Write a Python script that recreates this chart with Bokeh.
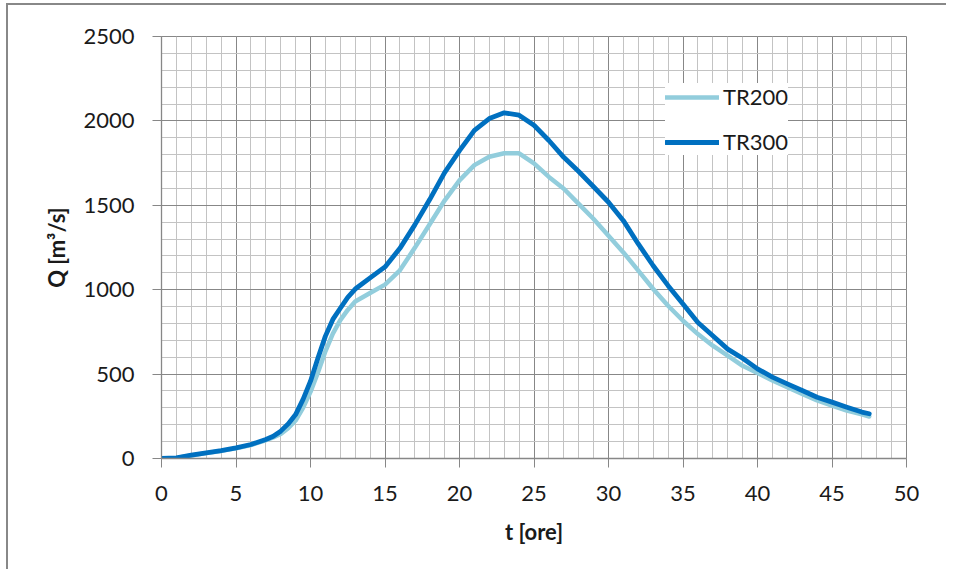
from bokeh.plotting import figure
from bokeh.embed import file_html
from bokeh.resources import INLINE
from bokeh.models import SingleIntervalTicker, Range1d, Legend, LegendItem

# ---- data ----
t_ore = [0, 1, 2, 3, 4, 5, 6, 7, 7.5, 8, 8.5, 9, 9.5, 10, 10.5, 11, 11.5, 12, 12.5,
         13, 14, 15, 16, 17, 18, 19, 20, 21, 22, 23, 24, 25, 26, 27, 28, 29, 30,
         31, 32, 33, 34, 35, 36, 37, 38, 39, 40, 41, 42, 43, 44, 45, 46, 47, 47.5]
tr300 = [0, 4, 20, 34, 47, 63, 83, 113, 132, 162, 205, 260, 350, 458, 596, 725, 824, 890, 955,
         1004, 1070, 1135, 1245, 1384, 1534, 1694, 1824, 1944, 2014, 2048, 2034, 1974, 1884, 1784,
         1700, 1610, 1518, 1409, 1271, 1142, 1024, 915, 806, 727, 648, 594, 531, 482, 442, 403,
         363, 334, 304, 275, 265]
tr200 = [0, 3, 18, 32, 45, 60, 80, 108, 125, 145, 180, 225, 300, 395, 510, 635, 740, 820, 880,
         930, 980, 1030, 1115, 1248, 1388, 1528, 1648, 1738, 1788, 1808, 1808, 1748, 1668, 1598,
         1508, 1419, 1320, 1221, 1113, 1004, 905, 816, 737, 668, 609, 549, 506, 462, 423, 383,
         344, 314, 284, 261, 249]
series_names = ["TR200", "TR300"]
x_label = "t [ore]"
y_label = "Q [m³/s]"

FONT = "Lato"
MAJOR = "#878787"
MINOR = "#c3c3c3"

p = figure(width=940, height=566, output_backend="svg", toolbar_location=None,
           x_range=Range1d(0, 50), y_range=Range1d(0, 2500),
           min_border_left=153, min_border_right=42, min_border_top=31, min_border_bottom=113)
p.styles = {"border-left": "2px solid #888888", "border-top": "2px solid #888888",
            "margin-left": "6px", "margin-top": "3px"}
p.background_fill_color = "white"
p.border_fill_color = "white"
p.outline_line_color = MAJOR
p.outline_line_width = 1

p.xaxis.ticker = SingleIntervalTicker(interval=5, num_minor_ticks=5)
p.yaxis.ticker = SingleIntervalTicker(interval=500, num_minor_ticks=5)

for g in (p.xgrid, p.ygrid):
    g.grid_line_color = MAJOR
    g.grid_line_width = 1
    g.minor_grid_line_color = MINOR
    g.minor_grid_line_width = 1

for ax in (p.xaxis, p.yaxis):
    ax.axis_line_color = MAJOR
    ax.axis_line_width = 1.3
    ax.major_tick_line_color = MAJOR
    ax.major_tick_out = 9
    ax.major_tick_in = 0
    ax.minor_tick_line_color = None
    ax.major_label_text_font = FONT
    ax.major_label_text_font_size = "22px"
    ax.major_label_text_color = "#1a1a1a"
    ax.axis_label_text_font = FONT
    ax.axis_label_text_font_size = "22px"
    ax.axis_label_text_font_style = "bold"
    ax.axis_label_text_color = "#1a1a1a"

p.xaxis.axis_label = x_label
p.yaxis.axis_label = y_label
p.xaxis.major_label_standoff = 18
p.yaxis.major_label_standoff = 18
p.xaxis.axis_label_standoff = 14
p.yaxis.axis_label_standoff = 10

r1 = p.line(t_ore, tr200, line_color="#92cddc", line_width=4.5, line_join="round", line_cap="round")
r2 = p.line(t_ore, tr300, line_color="#0070c0", line_width=4.8, line_join="round", line_cap="round")

legend = Legend(items=[LegendItem(label=series_names[0], renderers=[r1]),
                       LegendItem(label=series_names[1], renderers=[r2])],
                location=(504, 303), orientation="vertical")
legend.background_fill_color = "white"
legend.background_fill_alpha = 1
legend.border_line_color = None
legend.padding = 14
legend.margin = 0
legend.spacing = 18
legend.glyph_width = 54
legend.glyph_height = 20
legend.label_height = 20
legend.label_standoff = 4
legend.label_text_font = FONT
legend.label_text_font_size = "22px"
legend.label_text_color = "#1a1a1a"
legend.label_text_baseline = "middle"
p.add_layout(legend, "center")

open("out.html", "w").write(file_html(p, INLINE))
